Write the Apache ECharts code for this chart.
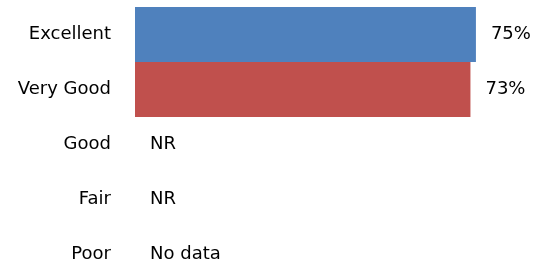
<!DOCTYPE html>
<html>
<head>
    <meta charset="utf-8">
    <title>Rating</title>
    <script src="https://cdn.jsdelivr.net/npm/echarts@6/dist/echarts.min.js"></script>
    <style>
        html, body { margin: 0; padding: 0; background: #fff; }
        #chart { width: 535px; height: 268px; }
    </style>
</head>
<body>
<div id="chart"></div>
<script>
    // 数据
    var categories = ['Excellent', 'Very Good', 'Good', 'Fair', 'Poor'];
    var values = [74.6, 73.4, 0, 0, 0];
    var notes = ['', '', 'NR', 'NR', 'No data'];
    var colors = ['#4F81BD', '#C0504D', '#4F81BD', '#4F81BD', '#4F81BD'];

    var myChart = echarts.init(document.getElementById('chart'));

    var option = {
        animation: false,
        textStyle: { fontFamily: 'DejaVu Sans' },
        grid: { left: 135, top: 7, width: 457, height: 275, outerBoundsMode: 'none' },
        xAxis: {
            type: 'value',
            min: 0,
            max: 100,
            show: false
        },
        yAxis: {
            type: 'category',
            inverse: true,
            data: categories,
            axisLine: { show: false },
            axisTick: { show: false },
            splitLine: { show: false },
            axisLabel: { margin: 24, fontSize: 18, color: '#000' }
        },
        series: [{
            type: 'bar',
            barCategoryGap: '0%',
            data: values.map(function (v, i) {
                return { value: v, itemStyle: { color: colors[i] } };
            }),
            label: {
                show: true,
                position: 'right',
                distance: 15,
                fontSize: 18,
                color: '#000',
                formatter: function (p) {
                    return notes[p.dataIndex] || (Math.round(p.value) + '%');
                }
            }
        }]
    };

    myChart.setOption(option);
</script>
</body>
</html>
